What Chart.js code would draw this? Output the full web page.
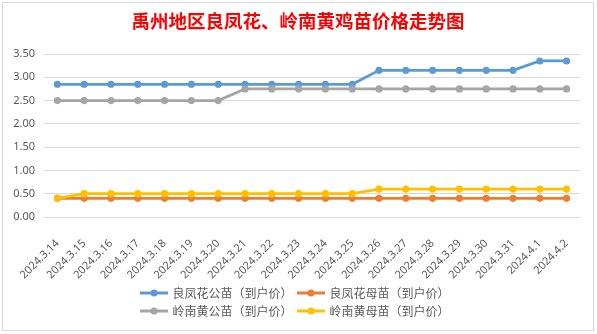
<!DOCTYPE html>
<html>
<head>
<meta charset="utf-8">
<script src="https://cdn.jsdelivr.net/npm/chart.js@4/dist/chart.umd.min.js"></script>
<style>
  html, body { margin: 0; padding: 0; background: #ffffff; }
  #wrap { position: relative; width: 597px; height: 334px; }
</style>
</head>
<body>
<div id="wrap"><canvas id="c" width="597" height="334"></canvas></div>
<script>
// Dates along the x axis
const dates = [
  '2024.3.14', '2024.3.15', '2024.3.16', '2024.3.17', '2024.3.18',
  '2024.3.19', '2024.3.20', '2024.3.21', '2024.3.22', '2024.3.23',
  '2024.3.24', '2024.3.25', '2024.3.26', '2024.3.27', '2024.3.28',
  '2024.3.29', '2024.3.30', '2024.3.31', '2024.4.1', '2024.4.2'
];

// Prices per series (yuan)
const liangfengMale = [2.85, 2.85, 2.85, 2.85, 2.85, 2.85, 2.85, 2.85, 2.85, 2.85,
                       2.85, 2.85, 3.15, 3.15, 3.15, 3.15, 3.15, 3.15, 3.35, 3.35];
const liangfengFemale = [0.40, 0.40, 0.40, 0.40, 0.40, 0.40, 0.40, 0.40, 0.40, 0.40,
                         0.40, 0.40, 0.40, 0.40, 0.40, 0.40, 0.40, 0.40, 0.40, 0.40];
const lingnanMale = [2.50, 2.50, 2.50, 2.50, 2.50, 2.50, 2.50, 2.75, 2.75, 2.75,
                     2.75, 2.75, 2.75, 2.75, 2.75, 2.75, 2.75, 2.75, 2.75, 2.75];
const lingnanFemale = [0.40, 0.50, 0.50, 0.50, 0.50, 0.50, 0.50, 0.50, 0.50, 0.50,
                       0.50, 0.50, 0.60, 0.60, 0.60, 0.60, 0.60, 0.60, 0.60, 0.60];

const seriesNames = ['良凤花公苗（到户价）', '良凤花母苗（到户价）', '岭南黄公苗（到户价）', '岭南黄母苗（到户价）'];
const yTicks = [0, 0.5, 1, 1.5, 2, 2.5, 3, 3.5];
const titleText = '禹州地区良凤花、岭南黄鸡苗价格走势图';

const COLORS = ['#5B9BD5', '#ED7D31', '#A5A5A5', '#FFC000'];
const LEGEND_ROW_WIDTH = 360;

// Legend swatch: short line with a dot in the middle
function swatch(color) {
  const cv = document.createElement('canvas');
  cv.width = 28; cv.height = 10;
  const g = cv.getContext('2d');
  g.strokeStyle = color; g.lineWidth = 3;
  g.beginPath(); g.moveTo(0, 5); g.lineTo(28, 5); g.stroke();
  g.fillStyle = color;
  g.beginPath(); g.arc(14, 5, 3.5, 0, Math.PI * 2); g.fill();
  return cv;
}

function ds(i, data) {
  return {
    label: seriesNames[i],
    data: data,
    borderColor: COLORS[i],
    backgroundColor: COLORS[i],
    borderWidth: 2.75,
    pointRadius: 3.6,
    pointHoverRadius: 3.6,
    pointBorderWidth: 0,
    pointStyle: 'circle',
    tension: 0,
    order: 4 - i
  };
}

// Frame, title, and two-per-row legend centred on the whole canvas
const decor = {
  id: 'decor',
  afterInit(chart) {
    const lg = chart.legend;
    if (!lg) return;
    const origFit = lg.fit.bind(lg);
    lg.fit = function () {
      const mw = this.maxWidth;
      this.maxWidth = Math.min(mw, LEGEND_ROW_WIDTH);
      origFit();
      this.maxWidth = mw;
    };
  },
  afterLayout(chart) {
    const lg = chart.legend;
    if (!lg) return;
    lg.left = 0;
    lg.right = 591;
    lg.width = 591;
  },
  beforeDraw(chart) {
    const ctx = chart.ctx;
    ctx.save();
    ctx.fillStyle = '#ffffff';
    ctx.fillRect(0, 0, chart.width, chart.height);
    ctx.strokeStyle = '#d9d9d9';
    ctx.lineWidth = 1;
    ctx.strokeRect(2.5, 2.5, 591, 328);
    ctx.restore();
  },
  afterDraw(chart) {
    const ctx = chart.ctx;
    ctx.save();
    ctx.fillStyle = '#ff0000';
    ctx.font = 'bold 18.5px "Noto Sans CJK SC"';
    ctx.textAlign = 'center';
    ctx.textBaseline = 'middle';
    ctx.fillText(titleText, 298, 21);
    ctx.restore();
  }
};

new Chart(document.getElementById('c'), {
  type: 'line',
  data: {
    labels: dates,
    datasets: [
      ds(0, liangfengMale),
      ds(1, liangfengFemale),
      ds(2, lingnanMale),
      ds(3, lingnanFemale)
    ]
  },
  options: {
    responsive: false,
    animation: false,
    devicePixelRatio: 1,
    layout: { padding: { top: 54, left: 0, right: 17, bottom: 7 } },
    plugins: {
      title: { display: false },
      tooltip: { enabled: false },
      legend: {
        position: 'bottom',
        labels: {
          usePointStyle: true,
          pointStyleWidth: 25,
          padding: 6,
          color: '#595959',
          font: { family: '"Noto Sans CJK SC"', size: 12 },
          sort: (a, b) => a.datasetIndex - b.datasetIndex,
          generateLabels(chart) {
            return chart.data.datasets.map((d, i) => ({
              text: d.label,
              fillStyle: COLORS[i],
              strokeStyle: COLORS[i],
              lineWidth: 0,
              pointStyle: swatch(COLORS[i]),
              fontColor: '#595959',
              hidden: false,
              datasetIndex: i
            }));
          }
        }
      }
    },
    scales: {
      x: {
        offset: true,
        grid: { display: false },
        border: { display: false },
        ticks: {
          autoSkip: false,
          minRotation: 45,
          maxRotation: 45,
          color: '#595959',
          padding: 12,
          font: { family: '"Noto Sans"', size: 11 }
        },
        afterFit(scale) { scale.height = 64; }
      },
      y: {
        min: 0,
        max: 3.5,
        afterBuildTicks(scale) { scale.ticks = yTicks.map(v => ({ value: v })); },
        grid: { color: '#d9d9d9', lineWidth: 1, drawTicks: false },
        border: { display: false },
        ticks: {
          color: '#595959',
          padding: 9,
          font: { family: '"Noto Sans"', size: 11 },
          callback: v => Number(v).toFixed(2)
        },
        afterFit(scale) { scale.width = 44; }
      }
    }
  },
  plugins: [decor]
});
</script>
</body>
</html>
